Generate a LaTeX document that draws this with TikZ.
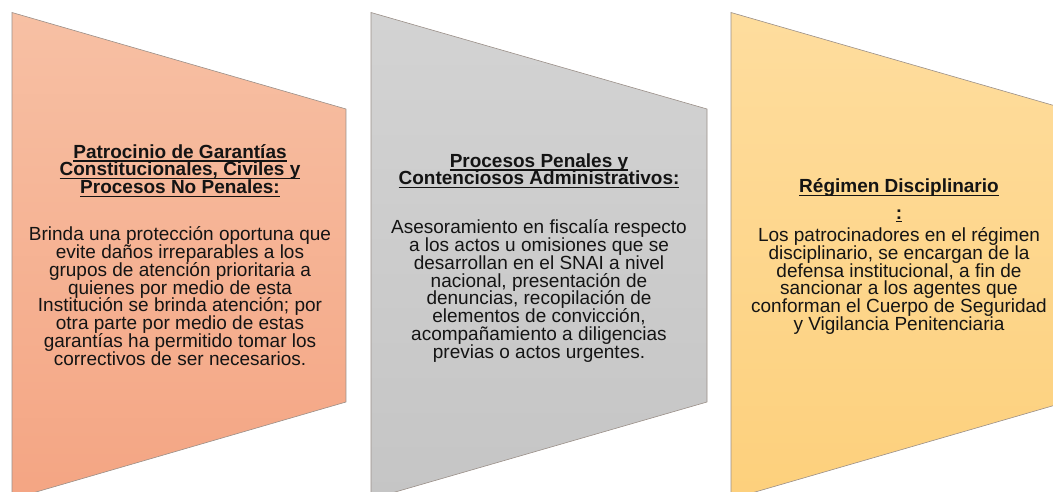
\documentclass[tikz,border=0pt]{standalone}
\usepackage{fontspec}
\setmainfont{Liberation Sans}
\definecolor{salmonTop}{HTML}{F7C0A4}
\definecolor{salmonBot}{HTML}{F4A583}
\definecolor{grayTop}{HTML}{D3D3D3}
\definecolor{grayBot}{HTML}{C5C5C5}
\definecolor{goldTop}{HTML}{FEDD9E}
\definecolor{goldBot}{HTML}{FDD07C}
\definecolor{edge}{HTML}{9A8F88}
\newcommand\upstrut{\rule{0pt}{20pt}}
\newcommand\dnstrut{\rule[-20pt]{0pt}{20pt}}
\newsavebox\ulbox
\newcommand\ulx[1]{\sbox\ulbox{#1}\rlap{\vrule height -2.2pt depth 3.5pt width \wd\ulbox\relax}\usebox\ulbox}
\newcommand\tightlines{\lineskiplimit=-100pt\relax\lineskip=0pt\relax}
\newcommand\bodyfont{\fontsize{19}{17.8}\selectfont\tightlines}
\newcommand\titlefont{\fontsize{19}{17.8}\selectfont\bfseries\tightlines}
\tikzset{
  panel/.style={draw=edge, line width=0.6pt},
  txt/.style={align=center, inner sep=0pt, text=black!92, font=\bodyfont},
  ttl/.style={align=center, inner sep=0pt, text=black!92, font=\titlefont},
}
\begin{document}
\begin{tikzpicture}[x=1pt,y=-1pt]
\useasboundingbox (0,0) rectangle (1053,492);
\clip (0,0) rectangle (1053,492);
% panels
\shade[top color=salmonTop, bottom color=salmonBot] (12,12.5) -- (346,109) -- (346,402) -- (12,499) -- cycle;
\draw[panel] (12,12.5) -- (346,109) -- (346,402) -- (12,499) -- cycle;
\shade[top color=grayTop, bottom color=grayBot] (371,12.5) -- (707,109) -- (707,402) -- (371,499) -- cycle;
\draw[panel] (371,12.5) -- (707,109) -- (707,402) -- (371,499) -- cycle;
\shade[top color=goldTop, bottom color=goldBot] (731,12.5) -- (1066,109) -- (1066,402) -- (731,499) -- cycle;
\draw[panel] (731,12.5) -- (1066,109) -- (1066,402) -- (731,499) -- cycle;
% texts
\node[ttl] (t1) at (180,176) {\upstrut\ulx{Patrocinio de Garantías}\\\ulx{Constitucionales, Civiles y}\\\ulx{Procesos No Penales:}\dnstrut};
\node[txt] (b1) at (180,303) {\upstrut Brinda una protección oportuna que\\evite daños irreparables a los\\grupos de atención prioritaria a\\quienes por medio de esta\\Institución se brinda atención; por\\otra parte por medio de estas\\garantías ha permitido tomar los\\correctivos de ser necesarios.\dnstrut};
\node[ttl] (t2) at (539,176) {\upstrut\ulx{Procesos Penales y}\\\ulx{Contenciosos Administrativos:}\dnstrut};
\node[txt] (b2) at (539,296) {\upstrut Asesoramiento en fiscalía respecto\\a los actos u omisiones que se\\desarrollan en el SNAI a nivel\\nacional, presentación de\\denuncias, recopilación de\\elementos de convicción,\\acompañamiento a diligencias\\previas o actos urgentes.\dnstrut};
\node[ttl] (t3) at (899,193) {\upstrut\ulx{Régimen Disciplinario}\dnstrut};
\node[ttl] (c3) at (899,219) {\upstrut\ulx{:}\dnstrut};
\node[txt] (b3) at (899,286) {\upstrut Los patrocinadores en el régimen\\disciplinario, se encargan de la\\defensa institucional, a fin de\\sancionar a los agentes que\\conforman el Cuerpo de Seguridad\\y Vigilancia Penitenciaria\dnstrut};
\end{tikzpicture}
\end{document}
